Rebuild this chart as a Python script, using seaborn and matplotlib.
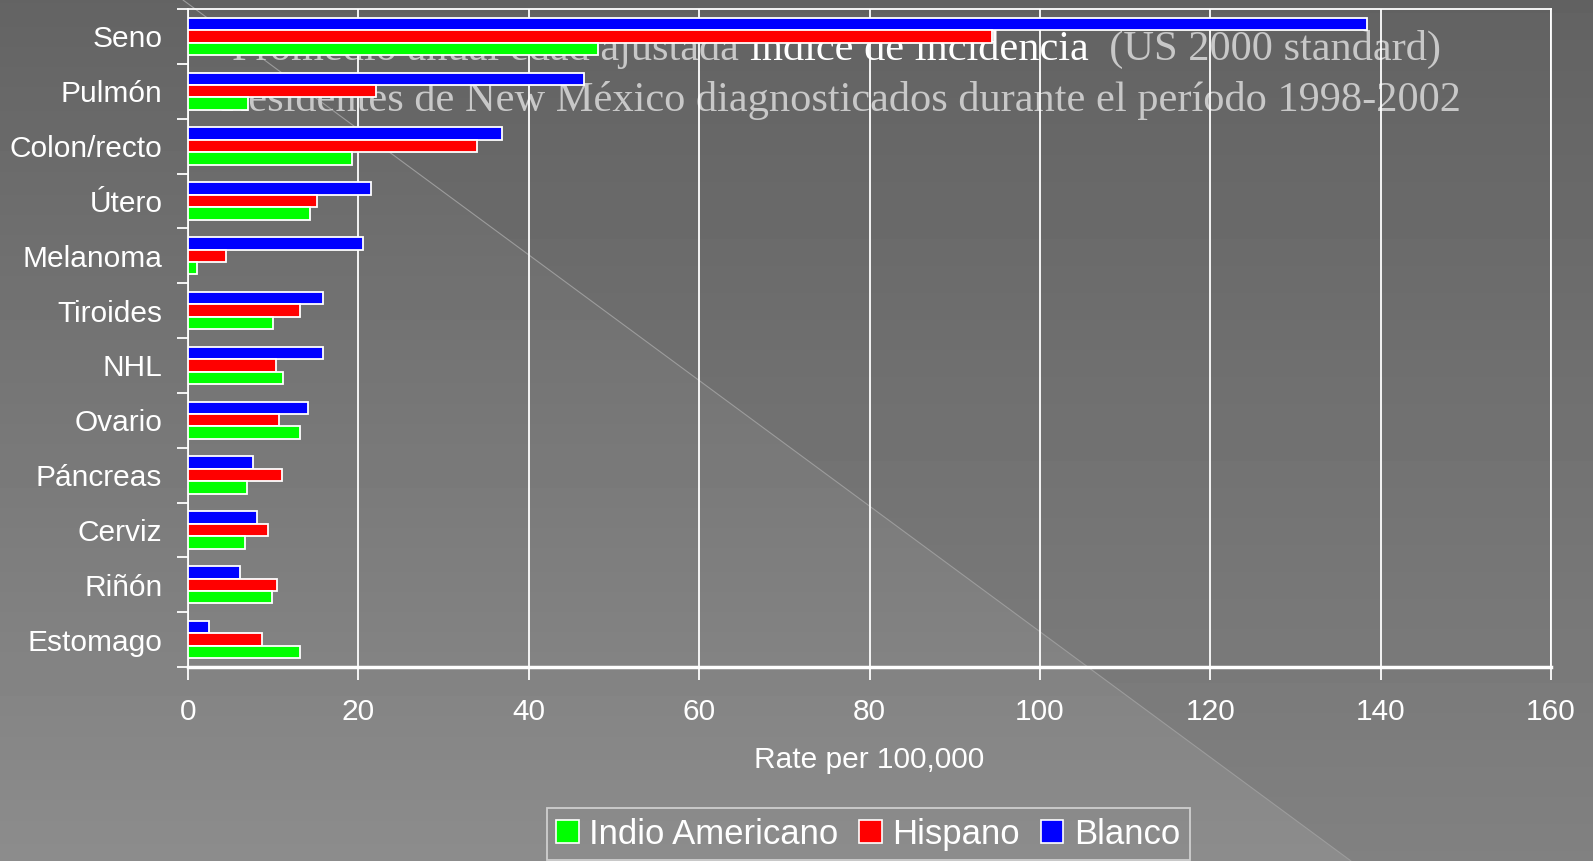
import numpy as np
import pandas as pd
import seaborn as sns
import matplotlib.pyplot as plt
from matplotlib.patches import Polygon, Patch

# data (rate per 100,000)
sites = ["Seno", "Pulmón", "Colon/recto", "Útero", "Melanoma", "Tiroides",
         "NHL", "Ovario", "Páncreas", "Cerviz", "Riñón", "Estomago"]
blanco = [138.4, 46.5, 36.9, 21.5, 20.5, 15.9, 15.9, 14.1, 7.6, 8.1, 6.1, 2.5]
hispano = [94.4, 22.1, 33.9, 15.2, 4.5, 13.2, 10.3, 10.7, 11.0, 9.4, 10.5, 8.7]
indio = [48.1, 7.0, 19.2, 14.3, 1.0, 10.0, 11.2, 13.2, 6.9, 6.7, 9.9, 13.2]
groups = ["Blanco", "Hispano", "Indio Americano"]
colors = {"Blanco": "#0000ff", "Hispano": "#ff0000", "Indio Americano": "#00ff00"}

df = pd.DataFrame({
    "site": sites * 3,
    "group": ["Blanco"] * 12 + ["Hispano"] * 12 + ["Indio Americano"] * 12,
    "rate": blanco + hispano + indio,
})

sns.set_theme(style="white")
plt.rcParams["font.family"] = ["Liberation Sans", "DejaVu Sans"]

W, H = 1593, 861
fig = plt.figure(figsize=(W / 100, H / 100), dpi=100)

# background: gray gradient, slightly darker triangle at the upper right
bg = fig.add_axes([0, 0, 1, 1])
bg.set_xlim(0, W)
bg.set_ylim(H, 0)
bg.axis("off")
yy = np.linspace(0, 1, 256).reshape(-1, 1)
bg.imshow(np.repeat(0.39 + 0.16 * yy, 2, axis=1), cmap="gray", vmin=0, vmax=1,
          extent=(0, W, H, 0), aspect="auto", zorder=0)
x0, x1 = 183, 1351
tri_y = np.linspace(0, H, 60)
tri_x = x0 + (x1 - x0) * tri_y / H
tri = Polygon(list(zip(tri_x, tri_y)) + [(W + 5, H + 5), (W + 5, -5)], closed=True,
              facecolor="none", edgecolor="none", transform=bg.transData)
bg.add_patch(tri)
dark = bg.imshow(np.repeat(0.385 + 0.12 * yy, 2, axis=1), cmap="gray", vmin=0, vmax=1,
                 extent=(0, W, H, 0), aspect="auto", zorder=1)
dark.set_clip_path(tri)
bg.plot([x0, x1], [0, H], color="#9c9c9c", lw=0.8, zorder=2)

# title sits behind the bars
serif = ["Liberation Serif", "DejaVu Serif"]
tsize = 30.5
t1 = bg.text(232, 60, "Promedio anual edad ajustada ", color="#c8c8c8", fontsize=tsize,
             family=serif, va="baseline", ha="left", zorder=3)
t2 = bg.annotate("índice de incidencia", xy=(1, 0), xycoords=t1, va="bottom", ha="left",
                 color="white", fontsize=tsize, family=serif, zorder=3)
bg.annotate("  (US 2000 standard)", xy=(1, 0), xycoords=t2, va="bottom", ha="left",
            color="#c8c8c8", fontsize=tsize, family=serif, zorder=3)
bg.text(841, 111, "Residentes de New México diagnosticados durante el período 1998-2002",
        color="#c8c8c8", fontsize=tsize, family=serif, va="baseline", ha="center", zorder=3)

ax = fig.add_axes([188 / W, 1 - 667 / H, (1551 - 188) / W, (667 - 9) / H])
ax.patch.set_alpha(0)
sns.barplot(data=df, y="site", x="rate", hue="group", hue_order=groups,
            palette=colors, saturation=1, orient="h", width=0.68, edgecolor="white",
            linewidth=1.3, ax=ax, legend=False, zorder=3)

ax.set_xlim(0, 160)
ax.set_ylim(11.5, -0.5)
ax.set_xticks(np.arange(0, 161, 20))
ax.grid(axis="x", color="white", lw=1.3, zorder=0)
ax.set_axisbelow(True)
for s in ax.spines.values():
    s.set_color("white")
    s.set_linewidth(1.3)
ax.spines["bottom"].set_linewidth(2.5)

ax.set_yticks(np.arange(12))
ax.set_yticklabels(sites)
ax.set_yticks(np.arange(-0.5, 12, 1), minor=True)
ax.tick_params(axis="y", which="major", length=0, pad=18.5, labelsize=21.5, labelcolor="white")
ax.tick_params(axis="y", which="minor", left=True, length=8, width=1.3, color="white")
ax.tick_params(axis="x", bottom=True, length=9, width=1.3, color="white",
               pad=13, labelsize=21.5, labelcolor="white")
ax.set_ylabel("")
ax.set_xlabel("Rate per 100,000", color="white", fontsize=21.5, labelpad=15)

handles = [Patch(facecolor=colors[g], edgecolor="white", lw=1.2, label=g)
           for g in ["Indio Americano", "Hispano", "Blanco"]]
leg = fig.legend(handles=handles, loc="upper center", bbox_to_anchor=(0.545, 1 - 808 / H),
                 ncol=3, fontsize=25, frameon=True, fancybox=False, borderaxespad=0,
                 handlelength=0.65, handleheight=0.65, handletextpad=0.3,
                 columnspacing=0.6, borderpad=0.28, labelcolor="white")
leg.get_frame().set_facecolor("none")
leg.get_frame().set_edgecolor("#e0e0e0")
leg.get_frame().set_linewidth(1.3)

fig.savefig("out.png", dpi=100)
